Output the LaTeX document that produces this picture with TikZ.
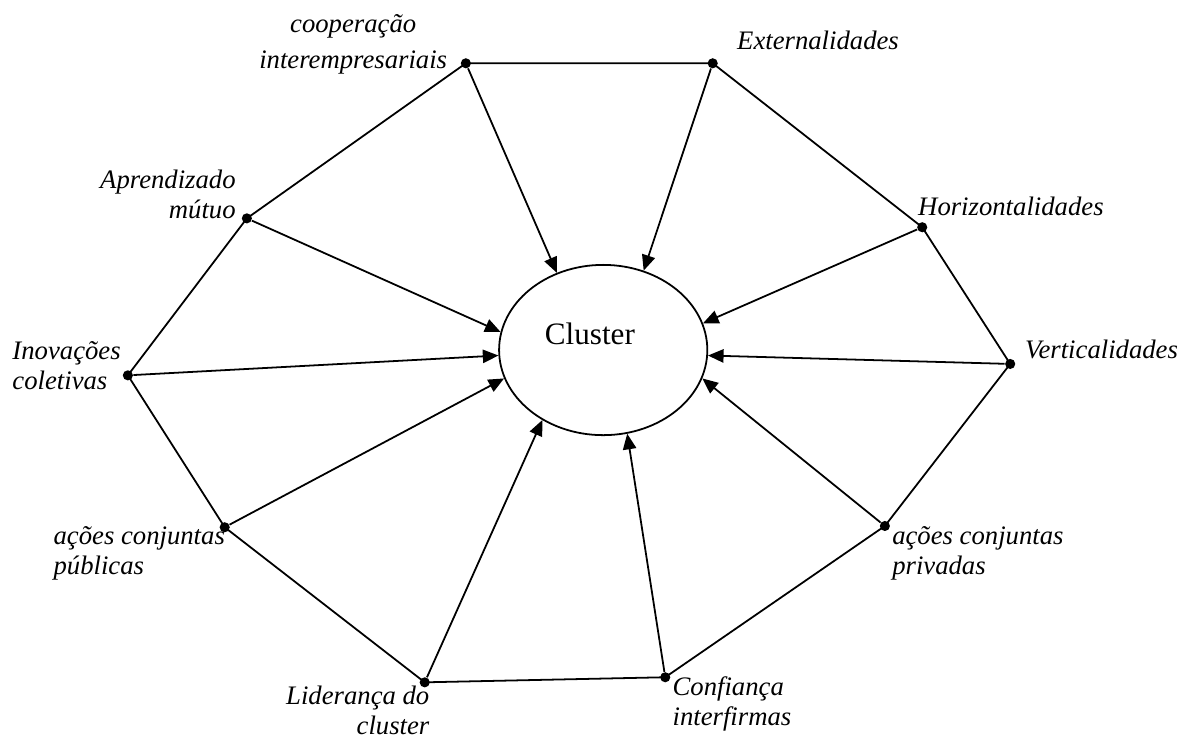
\documentclass[tikz,border=0pt]{standalone}
\usepackage{fontspec}
\setmainfont{Liberation Serif}
\usetikzlibrary{arrows.meta, shapes.geometric}

\begin{document}
\begin{tikzpicture}[
  joint/.style={circle, fill=black, inner sep=0pt, minimum size=0.16cm},
  hub/.style={draw, ellipse, line width=0.8pt, inner sep=0pt, minimum width=3.29cm, minimum height=2.69cm},
  lbl/.style={inner sep=0pt, font=\fontsize{12}{13.5}\selectfont\itshape},
  rim/.style={line width=0.8pt},
  arrow/.style={-{Triangle[length=7pt,width=6pt]}, line width=0.8pt}
]
\useasboundingbox (0,0) rectangle (18.69,11.66);

\node[hub] (cl) at (9.53,6.13) {};
\node[anchor=base, font=\fontsize{14}{16}\selectfont] (cltxt) at (9.32,6.21) {Cluster};

\node[joint] (coop) at (7.36,10.66) {};
\node[joint] (ext) at (11.26,10.66) {};
\node[joint] (hor) at (14.57,8.07) {};
\node[joint] (ver) at (15.96,5.91) {};
\node[joint] (priv) at (13.98,3.35) {};
\node[joint] (conf) at (10.51,0.96) {};
\node[joint] (lid) at (6.71,0.88) {};
\node[joint] (pub) at (3.55,3.33) {};
\node[joint] (inov) at (2.02,5.73) {};
\node[joint] (apr) at (3.90,8.21) {};

% labels: base anchor sits on the last line
\node[lbl, anchor=base, align=center] (lcoop) at (5.58,10.58) {cooperação\\[2.5pt]interempresariais};
\node[lbl, anchor=base west] (lext) at (11.64,10.87) {Externalidades};
\node[lbl, anchor=base west] (lhor) at (14.50,8.26) {Horizontalidades};
\node[lbl, anchor=base west] (lver) at (16.19,6.00) {Verticalidades};
\node[lbl, anchor=base west, align=left] (lpriv) at (14.09,2.58) {ações conjuntas\\privadas};
\node[lbl, anchor=base west, align=left] (lconf) at (10.62,0.20) {Confiança\\interfirmas};
\node[lbl, anchor=base east, align=right] (llid) at (6.79,0.06) {Liderança do\\cluster};
\node[lbl, anchor=base west, align=left] (lpub) at (0.84,2.58) {ações conjuntas\\públicas};
\node[lbl, anchor=base west, align=left] (linov) at (0.19,5.50) {Inovações\\coletivas};
\node[lbl, anchor=base east, align=right] (lapr) at (3.73,8.20) {Aprendizado\\mútuo};

% outer ring
\draw[rim] (coop.center) -- (ext.center) -- (hor.center) -- (ver.center) -- (priv.center)
  -- (conf.center) -- (lid.center) -- (pub.center) -- (inov.center) -- (apr.center) -- cycle;

% into the cluster
\draw[arrow] (coop) -- (cl.121);
\draw[arrow] (ext) -- (cl.63);
\draw[arrow] (hor) -- (cl.15);
\draw[arrow] (ver) -- (cl.-3);
\draw[arrow] (priv) -- (cl.-16);
\draw[arrow] (conf) -- (cl.-74);
\draw[arrow] (lid) -- (cl.-131);
\draw[arrow] (pub) -- (cl.196);
\draw[arrow] (inov) -- (cl.183);
\draw[arrow] (apr) -- (cl.170);
\end{tikzpicture}
\end{document}
